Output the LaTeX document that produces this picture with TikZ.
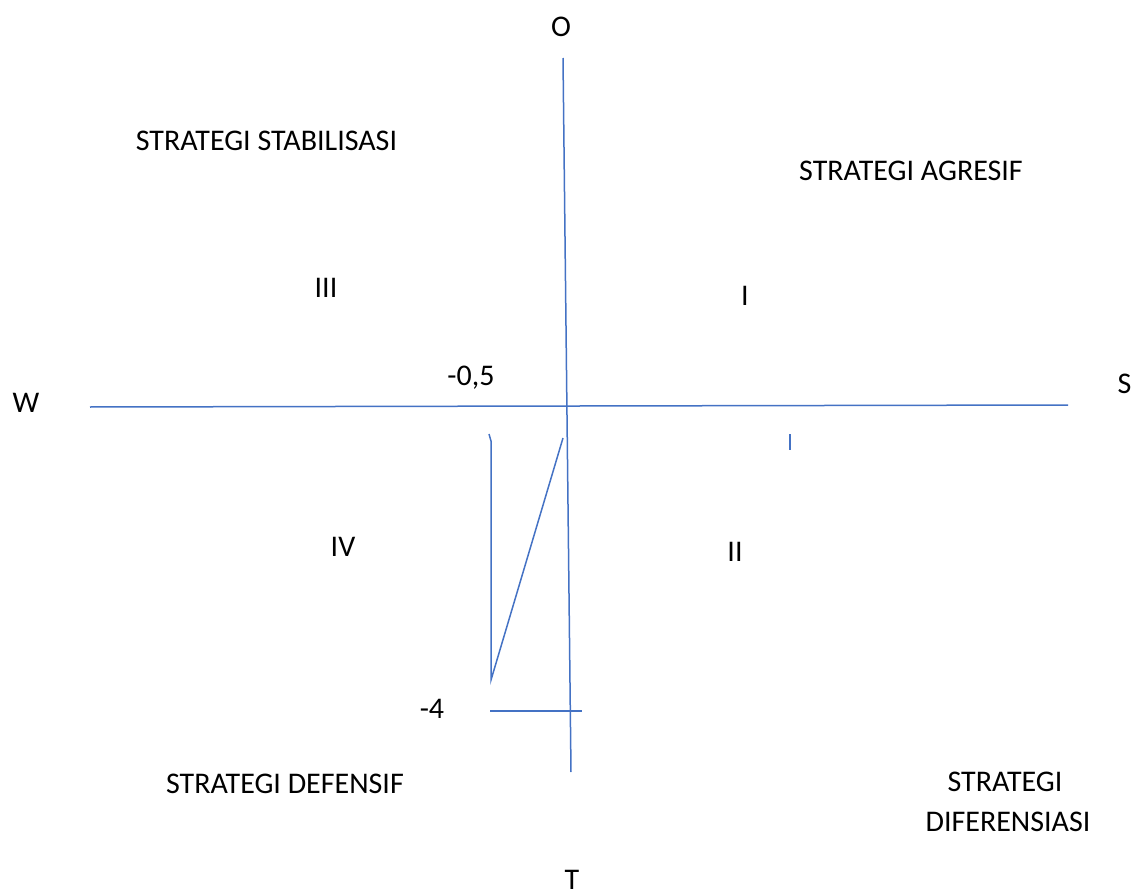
\documentclass[tikz,border=0pt]{standalone}
\usepackage{fontspec}
\setmainfont{Carlito}
\definecolor{axblue}{RGB}{68,114,196}
\begin{document}
\begin{tikzpicture}[x=0.5pt,y=-0.5pt,
  lbl/.style={anchor=base,inner sep=0pt,font=\fontsize{15}{17}\selectfont},
  ln/.style={draw=axblue,line width=0.75pt}]
\useasboundingbox (0,0) rectangle (1132,894);
% axes
\coordinate (otop) at (563,58);
\coordinate (obot) at (571,772);
\coordinate (wl) at (90,407);
\coordinate (sr) at (1068,405);
\draw[ln] (otop) -- (obot);
\draw[ln] (wl) -- (sr);
% drawn lines
\coordinate (a1) at (489,434);
\coordinate (a2) at (491,441);
\coordinate (a3) at (491,680);
\coordinate (a4) at (563,438);
\draw[ln] (a1) -- (a2) -- (a3) -- (a4);
\coordinate (h1) at (490,711);
\coordinate (h2) at (582,711);
\draw[ln] (h1) -- (h2);
\coordinate (t1) at (790,434);
\coordinate (t2) at (790,450);
\draw[ln] (t1) -- (t2);
% labels
\node[lbl] (O) at (561,36.5) {O};
\node[lbl] (W) at (26,412) {W};
\node[lbl] (S) at (1124.5,393.5) {S};
\node[lbl] (T) at (572,889) {T};
\node[lbl] (stab) at (266.5,150.5) {STRATEGI STABILISASI};
\node[lbl] (agr) at (911,180) {STRATEGI AGRESIF};
\node[lbl] (q3) at (326,297) {III};
\node[lbl] (q1) at (745,305) {I};
\node[lbl] (v05) at (471,385) {-0,5};
\node[lbl] (q4) at (343,556) {IV};
\node[lbl] (q2) at (735,561) {II};
\node[lbl] (v4) at (432,718) {-4};
\node[lbl] (def) at (285,793) {STRATEGI DEFENSIF};
\node[lbl] (dif1) at (1005,791.5) {STRATEGI};
\node[lbl] (dif2) at (1008,831) {DIFERENSIASI};
\end{tikzpicture}
\end{document}
